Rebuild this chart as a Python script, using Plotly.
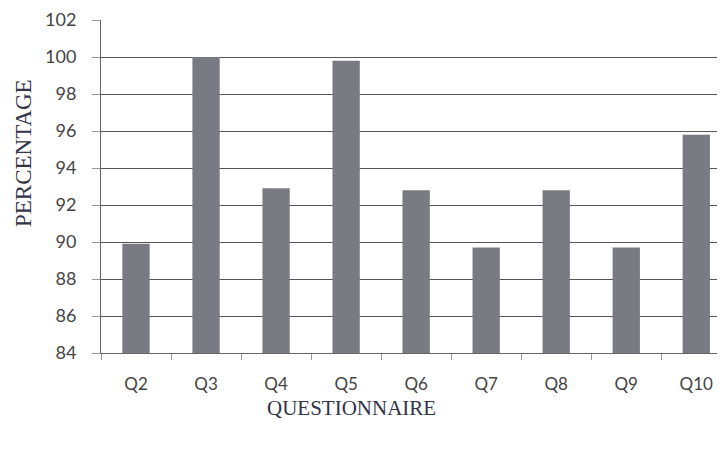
import plotly.graph_objects as go

categories = ["Q2", "Q3", "Q4", "Q5", "Q6", "Q7", "Q8", "Q9", "Q10"]
percentages = [89.9, 100.0, 92.9, 99.8, 92.8, 89.7, 92.8, 89.7, 95.8]
y_ticks = [84, 86, 88, 90, 92, 94, 96, 98, 100, 102]

# page body has an 8px margin, so the figure is shifted by 8px
OFF = 8
W, H = 725 - OFF, 454 - OFF
L, T, B, R = 101 - OFF, 20 - OFF, 101, 0

fig = go.Figure()
fig.add_trace(go.Bar(
    x=categories, y=percentages,
    width=0.39,
    marker=dict(color="#7a7a83", line=dict(width=0)),
))

fig.update_layout(
    width=W, height=H,
    margin=dict(l=L, r=R, t=T, b=B),
    paper_bgcolor="white", plot_bgcolor="white",
    showlegend=False,
    xaxis=dict(
        range=[-0.5, 8.41],
        showgrid=False,
        showline=True, linecolor="#666", linewidth=1,
        ticks="outside", tickson="boundaries", ticklen=6, tickcolor="#999",
        tickfont=dict(family="Lato, Open Sans, sans-serif", size=17, color="#444"),
        ticklabelstandoff=16,
    ),
    yaxis=dict(
        range=[84, 102],
        tickvals=y_ticks,
        showgrid=True, gridcolor="#555", gridwidth=1,
        showline=True, linecolor="#666", linewidth=1,
        ticks="outside", ticklen=8, tickcolor="#999",
        tickfont=dict(family="Lato, Open Sans, sans-serif", size=18, color="#444"),
        ticklabelstandoff=12,
        zeroline=False,
    ),
)

pw = W - L - R
ph = H - T - B


def px_to_paper(sx, sy):
    return (sx - OFF - L) / pw, (H - B - (sy - OFF)) / ph


ax, ay = px_to_paper(23, 153)
bx, by = px_to_paper(351, 408)
fig.add_annotation(text="PERCENTAGE", x=ax, y=ay, xref="paper", yref="paper",
                   xanchor="center", yanchor="middle",
                   showarrow=False, textangle=-90,
                   font=dict(family="Liberation Serif, serif", size=23, color="#33334a"))
fig.add_annotation(text="QUESTIONNAIRE", x=bx, y=by, xref="paper", yref="paper",
                   xanchor="center", yanchor="middle",
                   showarrow=False,
                   font=dict(family="Liberation Serif, serif", size=21, color="#33334a"))

fig.write_html("out.html")
